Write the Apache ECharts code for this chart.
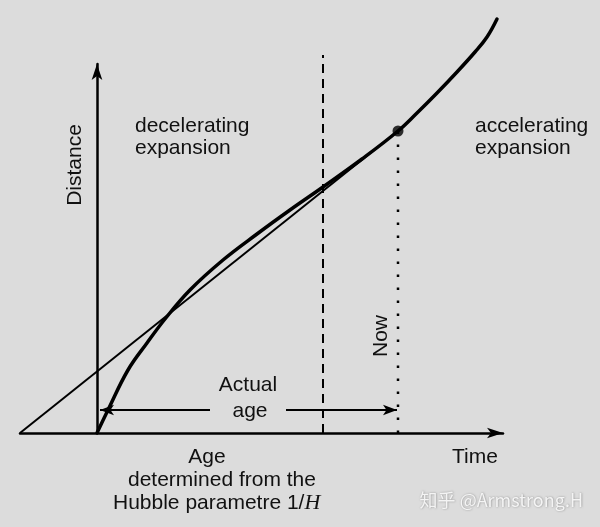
<!DOCTYPE html>
<html>
<head>
<meta charset="utf-8">
<script src="https://cdn.jsdelivr.net/npm/echarts@6/dist/echarts.min.js"></script>
<style>
html,body{margin:0;padding:0;background:#dcdcdc;}
#c{width:600px;height:527px;}
</style>
</head>
<body>
<div id="c"></div>
<script>
// Expansion curve (time, distance) in arbitrary units
const curveTime = [0, 1.1, 3.1, 5.0, 6.8, 9.3, 12.6, 16.0, 19.3, 22.6, 26.5, 30.1, 32.0, 34.0, 36.0, 37.8, 39.0, 40.0];
const curveDist = [0, 2.3, 6.3, 9.0, 11.4, 14.3, 17.3, 19.9, 22.3, 24.6, 27.4, 30.2, 32.0, 34.0, 36.1, 38.1, 39.6, 41.4];
// Straight line (Hubble age extrapolation)
const lineTime = [-7.7, 30.1];
const lineDist = [0, 30.2];
// Special times
const hubbleTime = 22.6;   // dashed line
const nowTime = 30.1;      // now
const nowDist = 30.2;
const dashedTop = 37.8;
// Age arrows: [startTime, endTime, level]
const actualAgeSegs = [[0.3, 11.3, 2.3], [18.9, 30.0, 2.3]];
const hubbleAgeSegs = [[-7.4, 3.8, -2.3], [18.9, 30.0, -2.3]];

const chart = echarts.init(document.getElementById('c'), null, {renderer: 'canvas'});

const curveData = curveTime.map((t, i) => [t, curveDist[i]]);
const lineData = lineTime.map((t, i) => [t, lineDist[i]]);

function arrowMarks(segs) {
  const out = [];
  segs.forEach((s, i) => {
    out.push([
      {coord: [s[0], s[2]], symbol: i === 0 ? 'arrow' : 'none'},
      {coord: [s[1], s[2]], symbol: i === 0 ? 'none' : 'arrow'}
    ]);
  });
  return out;
}

const font = '"Liberation Sans", Arial, Helvetica, sans-serif';
const txt = (text, x, y, opts) => Object.assign({
  type: 'text', x: x, y: y, silent: true,
  style: Object.assign({text: text, font: '21px ' + font, fill: '#111', align: 'center', verticalAlign: 'middle'}, opts || {})
});

chart.setOption({
  backgroundColor: '#dcdcdc',
  animation: false,
  grid: {left: 20, right: 97, top: 64, bottom: 94},
  xAxis: {
    type: 'value', min: -7.7, max: 40.6,
    axisLine: {onZero: true, symbol: ['none', 'arrow'], symbolSize: [8, 16], lineStyle: {color: '#000', width: 2.5}},
    axisTick: {show: false}, axisLabel: {show: false}, splitLine: {show: false}
  },
  yAxis: {
    type: 'value', min: 0, max: 36.9,
    axisLine: {onZero: true, symbol: ['none', 'arrow'], symbolSize: [8, 16], lineStyle: {color: '#000', width: 2.5}},
    axisTick: {show: false}, axisLabel: {show: false}, splitLine: {show: false}
  },
  series: [
    {
      type: 'line', data: lineData, showSymbol: false, clip: false,
      lineStyle: {color: '#000', width: 2}
    },
    {
      type: 'line', data: curveData, smooth: 0.4, showSymbol: false, clip: false,
      lineStyle: {color: '#000', width: 3.5, cap: 'round'}
    },
    {
      type: 'line', data: [[hubbleTime, 0], [hubbleTime, dashedTop]], showSymbol: false, clip: false,
      lineStyle: {color: '#000', width: 2, type: [9, 6]}
    },
    {
      type: 'line', data: [[nowTime, 0], [nowTime, nowDist]], showSymbol: false, clip: false,
      lineStyle: {color: '#000', width: 2.5, type: [2.5, 10.5]}
    },
    {
      type: 'scatter', data: [[nowTime, nowDist]], symbolSize: 11, clip: false,
      itemStyle: {color: '#000'}
    },
    {
      type: 'line', data: [], clip: false,
      markLine: {
        silent: true, animation: false,
        symbolSize: [8, 14],
        label: {show: false},
        lineStyle: {color: '#000', width: 2, type: 'solid'},
        data: arrowMarks(actualAgeSegs).concat(arrowMarks(hubbleAgeSegs))
      }
    }
  ],
  graphic: [
    txt('decelerating', 135, 126, {align: 'left'}),
    txt('expansion', 135, 148, {align: 'left'}),
    txt('accelerating', 475, 126, {align: 'left'}),
    txt('expansion', 475, 148, {align: 'left'}),
    Object.assign(txt('Distance', 75, 165), {rotation: Math.PI / 2}),
    Object.assign(txt('Now', 381, 336), {rotation: Math.PI / 2}),
    txt('Actual', 248, 385),
    txt('age', 250, 411),
    txt('Age', 207, 457),
    txt('determined from the', 128, 480, {align: 'left'}),
    {
      type: 'text', x: 113, y: 503, silent: true,
      style: {
        text: 'Hubble parametre 1/{h|H}',
        font: '21px ' + font, fill: '#111', align: 'left', verticalAlign: 'middle',
        rich: {h: {fontFamily: '"Liberation Serif", "DejaVu Serif", serif', fontStyle: 'italic', fontSize: 22, fill: '#111'}}
      }
    },
    txt('Time', 475, 457),
    {
      type: 'text', x: 583, y: 500, silent: true,
      style: {
        text: '知乎 @Armstrong.H', font: '18px "Noto Sans CJK SC", ' + font,
        fill: '#f4f4f4', align: 'right', verticalAlign: 'middle',
        textShadowColor: 'rgba(90,90,90,0.6)', textShadowBlur: 2, textShadowOffsetX: 0.5, textShadowOffsetY: 0.5
      }
    }
  ]
});
</script>
</body>
</html>
